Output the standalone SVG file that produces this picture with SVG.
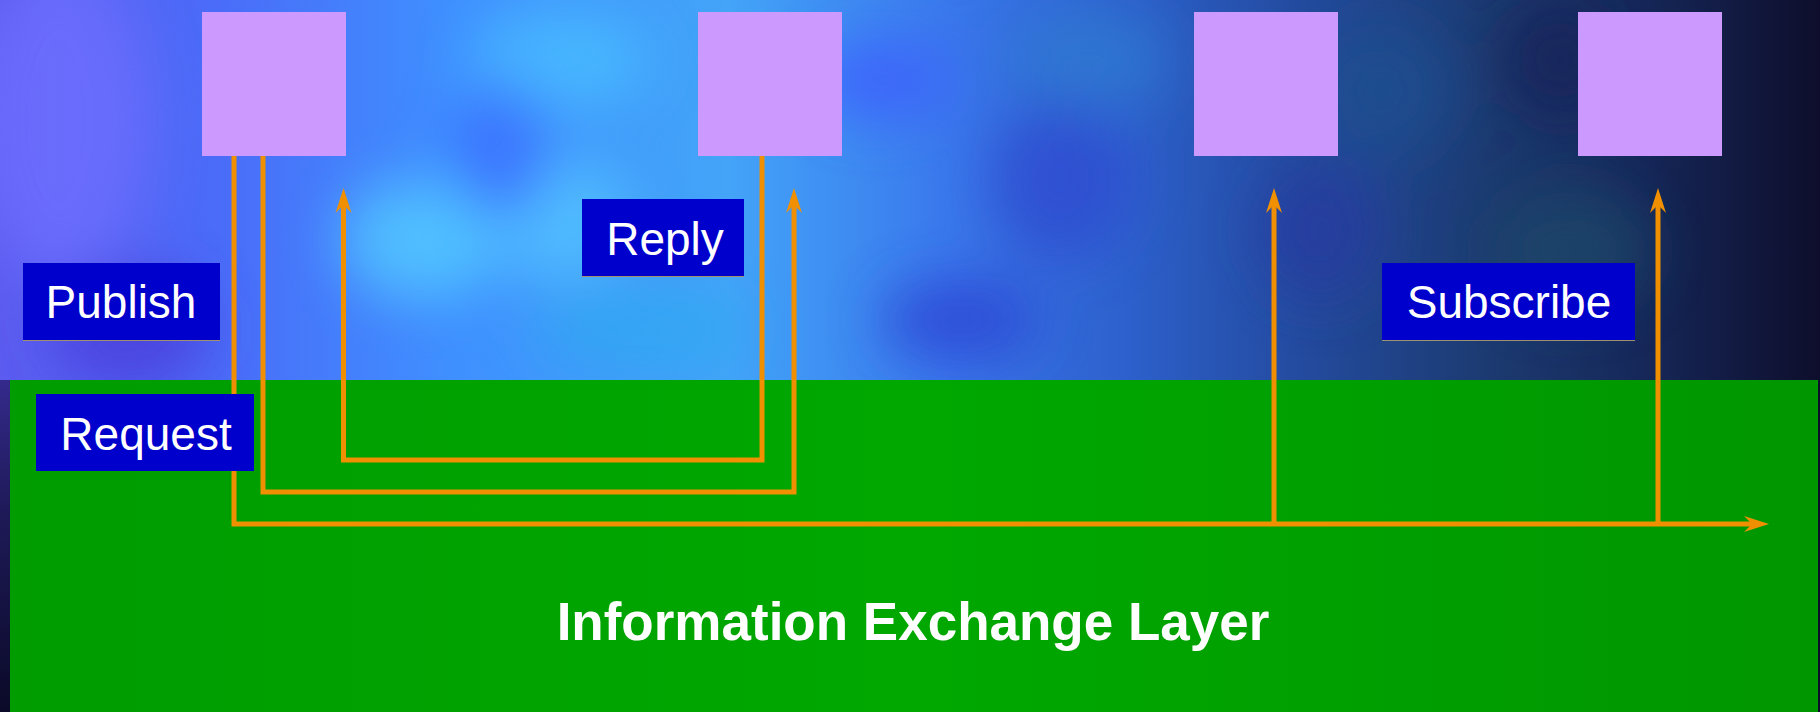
<svg xmlns="http://www.w3.org/2000/svg" width="1820" height="712" viewBox="0 0 1820 712">
  <defs>
    <linearGradient id="sky" x1="0" y1="0" x2="1" y2="0">
      <stop offset="0" stop-color="#5c5cf0"/>
      <stop offset="0.12" stop-color="#4a6cf8"/>
      <stop offset="0.25" stop-color="#3f90ff"/>
      <stop offset="0.4" stop-color="#43a4f8"/>
      <stop offset="0.52" stop-color="#3a78ec"/>
      <stop offset="0.62" stop-color="#2d60cc"/>
      <stop offset="0.72" stop-color="#234a9c"/>
      <stop offset="0.82" stop-color="#1c3a70"/>
      <stop offset="0.9" stop-color="#16285a"/>
      <stop offset="1" stop-color="#0e0e2c"/>
    </linearGradient>
    <linearGradient id="strip" x1="0" y1="0" x2="0" y2="1">
      <stop offset="0" stop-color="#342a8c"/>
      <stop offset="0.4" stop-color="#1e1a58"/>
      <stop offset="1" stop-color="#0a0a28"/>
    </linearGradient>
    <linearGradient id="green" x1="0" y1="0" x2="1" y2="0">
      <stop offset="0" stop-color="#009c00"/>
      <stop offset="0.5" stop-color="#00a800"/>
      <stop offset="1" stop-color="#009600"/>
    </linearGradient>
    <filter id="blur" x="-20%" y="-20%" width="140%" height="140%">
      <feGaussianBlur stdDeviation="28"/>
    </filter>
    <marker id="arrow" markerUnits="userSpaceOnUse" markerWidth="30" markerHeight="20" viewBox="0 -10 30 20" refX="8" refY="0" orient="auto">
      <path d="M0,-8 L25,0 L0,8 L8,0 Z" fill="#f09000"/>
    </marker>
    <style>
      .node rect.box { fill: #cc99ff; }
      .label rect { fill: #0000cc; }
      .label line { stroke: #a09070; stroke-width: 1; }
      .label text { font-family: "Liberation Sans", Arial, sans-serif; font-size: 46px; fill: #ffffff; text-anchor: middle; }
      .conn { fill: none; stroke: #f09000; stroke-width: 5; }
      .title { font-family: "Liberation Sans", Arial, sans-serif; font-size: 53px; font-weight: bold; fill: #ffffff; text-anchor: middle; }
    </style>
  </defs>

  <g id="background">
    <rect x="0" y="0" width="1820" height="712" fill="url(#sky)"/>
    <g filter="url(#blur)" opacity="0.75">
      <ellipse cx="60" cy="120" rx="90" ry="160" fill="#7070ff"/>
      <ellipse cx="130" cy="330" rx="80" ry="60" fill="#4a3ad8"/>
      <ellipse cx="420" cy="240" rx="80" ry="60" fill="#55d0ff"/>
      <ellipse cx="560" cy="60" rx="90" ry="50" fill="#48c0ff"/>
      <ellipse cx="560" cy="220" rx="70" ry="60" fill="#55c8ff"/>
      <ellipse cx="500" cy="150" rx="50" ry="70" fill="#3a6cff"/>
      <ellipse cx="880" cy="80" rx="70" ry="40" fill="#3d5cff"/>
      <ellipse cx="640" cy="330" rx="110" ry="40" fill="#2ea8f0"/>
      <ellipse cx="960" cy="320" rx="80" ry="40" fill="#2a40d0"/>
      <ellipse cx="1090" cy="60" rx="80" ry="50" fill="#2d7ad0"/>
      <ellipse cx="1060" cy="180" rx="70" ry="80" fill="#2f48d0"/>
      <ellipse cx="1380" cy="90" rx="70" ry="70" fill="#1e5090"/>
      <ellipse cx="1320" cy="230" rx="60" ry="70" fill="#253aa0"/>
      <ellipse cx="1570" cy="250" rx="80" ry="60" fill="#1a4a6a"/>
      <ellipse cx="1560" cy="60" rx="60" ry="60" fill="#12245a"/>
    </g>
    <rect x="0" y="380" width="10" height="332" fill="url(#strip)"/>
    <rect x="10" y="380" width="1808" height="332" fill="url(#green)"/>
    <text class="title" x="913" y="640">Information Exchange Layer</text>
  </g>

  <g id="node-1" class="node"><rect class="box" x="202" y="12" width="144" height="144"/></g>
  <g id="node-2" class="node"><rect class="box" x="698" y="12" width="144" height="144"/></g>
  <g id="node-3" class="node"><rect class="box" x="1194" y="12" width="144" height="144"/></g>
  <g id="node-4" class="node"><rect class="box" x="1578" y="12" width="144" height="144"/></g>

  <g id="connectors">
    <polyline class="conn" points="234,156 234,524 1752,524" marker-end="url(#arrow)"/>
    <polyline class="conn" points="1274,524 1274,205" marker-end="url(#arrow)"/>
    <polyline class="conn" points="1658,524 1658,205" marker-end="url(#arrow)"/>
    <polyline class="conn" points="263,156 263,492 794,492 794,205" marker-end="url(#arrow)"/>
    <polyline class="conn" points="762,156 762,460 343.5,460 343.5,205" marker-end="url(#arrow)"/>
  </g>

  <g id="label-publish" class="label">
    <rect x="23" y="263" width="197" height="77"/>
    <line x1="23" y1="340.5" x2="220" y2="340.5"/>
    <text x="121" y="318">Publish</text>
  </g>
  <g id="label-reply" class="label">
    <rect x="582" y="199" width="162" height="77"/>
    <line x1="582" y1="276.5" x2="744" y2="276.5"/>
    <text x="665" y="255">Reply</text>
  </g>
  <g id="label-subscribe" class="label">
    <rect x="1382" y="263" width="253" height="77"/>
    <line x1="1382" y1="340.5" x2="1635" y2="340.5"/>
    <text x="1509" y="318">Subscribe</text>
  </g>
  <g id="label-request" class="label">
    <rect x="36" y="394" width="218" height="77"/>
    <text x="146" y="450">Request</text>
  </g>
</svg>
